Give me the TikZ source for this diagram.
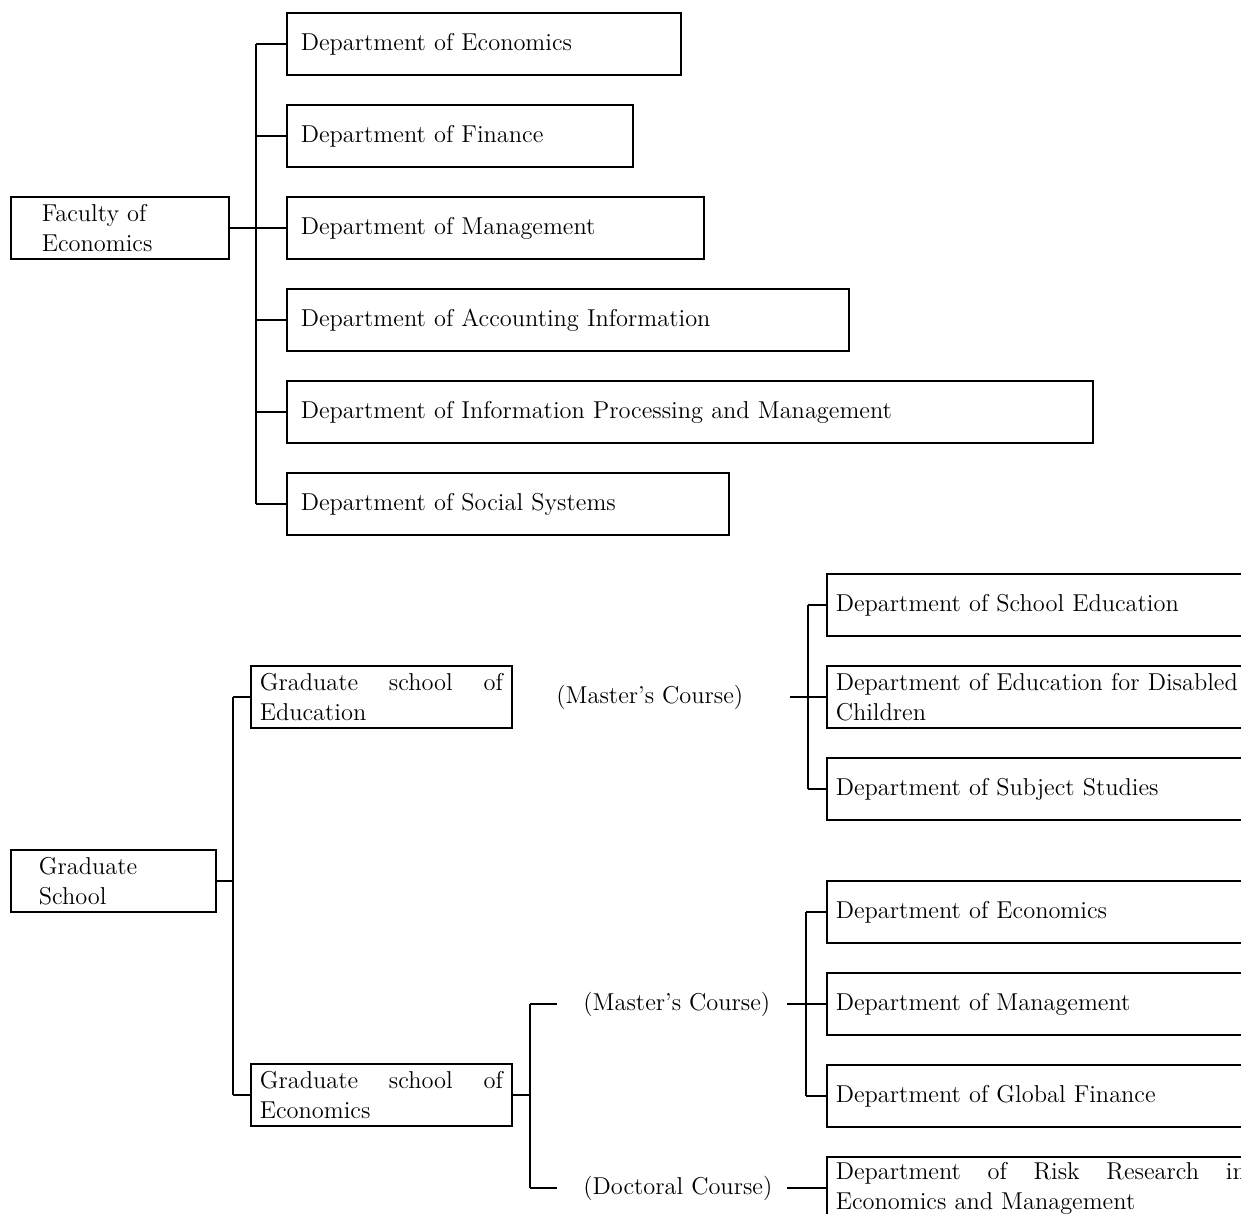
\documentclass[tikz,border=0pt]{standalone}
\usepackage{tikz}
\newcommand\chartfont{\fontsize{12.2}{15}\selectfont}
\tikzset{
  unitbox/.style={draw, line width=0.8pt, anchor=west, minimum height=31pt, inner ysep=1pt, inner xsep=7pt, align=left, font=\chartfont},
  deptbox/.style={unitbox, text width=#1},
  sidebox/.style={unitbox, inner xsep=4.5pt, text width=#1},
  course/.style={anchor=west, inner sep=0pt, font=\chartfont},
  joinline/.style={draw, line width=0.8pt},
}

\begin{document}
\begin{tikzpicture}[x=0.5pt, y=-0.5pt]
  \useasboundingbox (0,0) rectangle (1241,1214);
  \clip (0,0) rectangle (1241,1214);
  \node[deptbox=78pt, inner xsep=15.5pt] (fac) at (10,228) {Faculty of\\Economics};
  \node[deptbox=183pt] (dEcon) at (286,44) {Department of Economics};
  \node[deptbox=159pt] (dFin) at (286,136) {Department of Finance};
  \node[deptbox=194.5pt] (dMgmt) at (286,228) {Department of Management};
  \node[deptbox=267pt] (dAcc) at (286,320) {Department of Accounting Information};
  \node[deptbox=389pt] (dInfo) at (286,412) {Department of Information Processing and Management};
  \node[deptbox=207pt] (dSoc) at (286,504) {Department of Social Systems};
  \coordinate (ftrunk) at (256,0);
  \draw[joinline] (fac.east) -- (dMgmt.west);
  \draw[joinline] (dEcon.west -| ftrunk) -- (dSoc.west -| ftrunk);
  \foreach \n in {dEcon,dFin,dAcc,dInfo,dSoc}
    \draw[joinline] (\n.west -| ftrunk) -- (\n.west);

  \node[deptbox=74.5pt, inner xsep=14pt] (grad) at (10,881) {Graduate\\School};
  \node[sidebox=121.5pt] (gEdu) at (250,697) {\makebox[\hsize]{Graduate\hfill school\hfill of}\\Education};
  \node[sidebox=121.5pt] (gEcon) at (250,1095) {\makebox[\hsize]{Graduate\hfill school\hfill of}\\Economics};
  \coordinate (gtrunk) at (233,0);
  \draw[joinline] (grad.east) -- (grad.east -| gtrunk);
  \draw[joinline] (gEdu.west -| gtrunk) -- (gEcon.west -| gtrunk);
  \draw[joinline] (gEdu.west -| gtrunk) -- (gEdu.west);
  \draw[joinline] (gEcon.west -| gtrunk) -- (gEcon.west);

  \node[course] (eduMaster) at (556,697) {(Master's Course)};
  \node[sidebox=212pt] (eSchool) at (826,605) {Department of School Education};
  \node[sidebox=212pt] (eDisabled) at (826,697) {Department of Education for Disabled\\Children};
  \node[sidebox=212pt] (eSubject) at (826,789) {Department of Subject Studies};
  \coordinate (eduStart) at (790,697);
  \coordinate (etrunk) at (808,0);
  \draw[joinline] (eduStart) -- (eDisabled.west);
  \draw[joinline] (eSchool.west -| etrunk) -- (eSubject.west -| etrunk);
  \draw[joinline] (eSchool.west -| etrunk) -- (eSchool.west);
  \draw[joinline] (eSubject.west -| etrunk) -- (eSubject.west);

  \node[course] (ecoMaster) at (583,1004) {(Master's Course)};
  \node[course] (ecoDoctor) at (583,1188) {(Doctoral Course)};
  \coordinate (ctrunk) at (530,0);
  \coordinate (mEnd) at (557,1004);
  \coordinate (dEnd) at (557,1188);
  \draw[joinline] (gEcon.east) -- (gEcon.east -| ctrunk);
  \draw[joinline] (mEnd -| ctrunk) -- (dEnd -| ctrunk);
  \draw[joinline] (mEnd -| ctrunk) -- (mEnd);
  \draw[joinline] (dEnd -| ctrunk) -- (dEnd);

  \node[sidebox=212pt] (mEcon) at (826,912) {Department of Economics};
  \node[sidebox=212pt] (mMgmt) at (826,1004) {Department of Management};
  \node[sidebox=212pt] (mFin) at (826,1096) {Department of Global Finance};
  \node[sidebox=212pt] (dRisk) at (826,1188) {\makebox[205pt][l]{Department\hfill of\hfill Risk\hfill Research\hfill in}\\Economics and Management};
  \coordinate (mStart) at (787,1004);
  \coordinate (dStart) at (787,1188);
  \coordinate (mtrunk) at (806,0);
  \draw[joinline] (mStart) -- (mMgmt.west);
  \draw[joinline] (mEcon.west -| mtrunk) -- (mFin.west -| mtrunk);
  \draw[joinline] (mEcon.west -| mtrunk) -- (mEcon.west);
  \draw[joinline] (mFin.west -| mtrunk) -- (mFin.west);
  \draw[joinline] (dStart) -- (dRisk.west);
\end{tikzpicture}
\end{document}
